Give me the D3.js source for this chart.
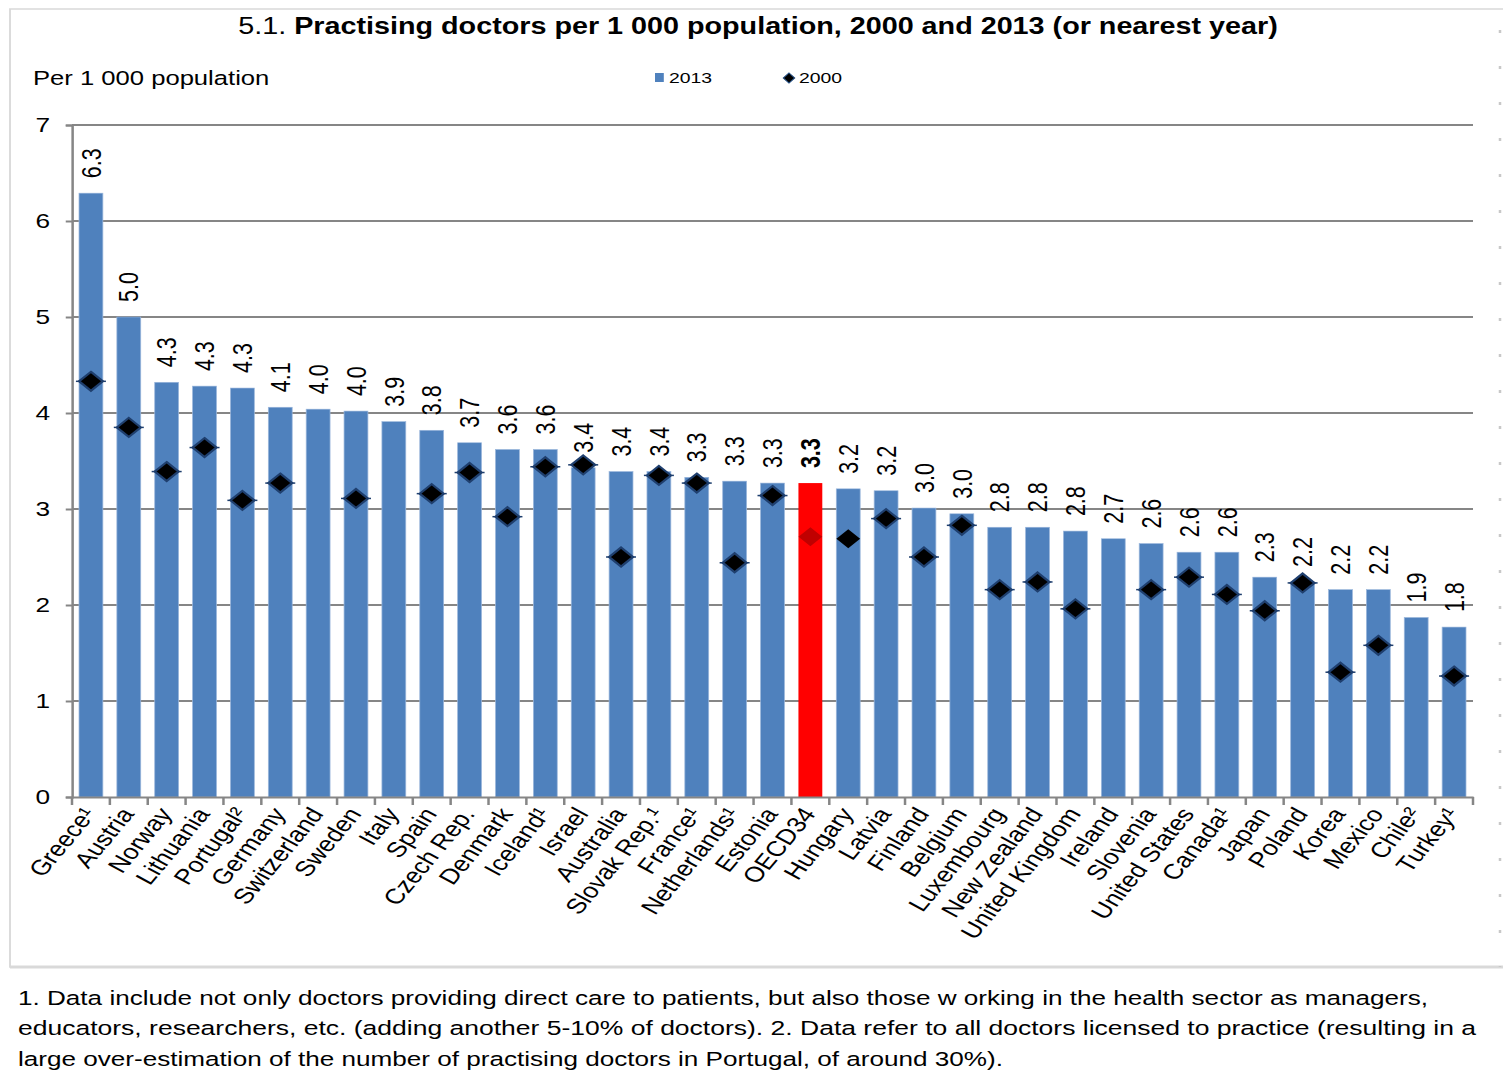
<!DOCTYPE html>
<html>
<head>
<meta charset="utf-8">
<script src="https://cdn.jsdelivr.net/npm/d3@7"></script>
<style>
  body { margin: 0; background: #fff; }
  text { font-family: "Liberation Sans", Arial, sans-serif; fill: #000; }
</style>
</head>
<body>
<div id="chart"></div>
<script>
// chart values
var countries = ["Greece¹","Austria","Norway","Lithuania","Portugal²","Germany","Switzerland","Sweden","Italy","Spain",
  "Czech Rep.","Denmark","Iceland¹","Israel","Australia","Slovak Rep.¹","France¹","Netherlands¹","Estonia","OECD34",
  "Hungary","Latvia","Finland","Belgium","Luxembourg","New Zealand","United Kingdom","Ireland","Slovenia","United States",
  "Canada¹","Japan","Poland","Korea","Mexico","Chile²","Turkey¹"];
var v2013 = [6.29,5.00,4.32,4.28,4.26,4.06,4.04,4.02,3.91,3.82,
  3.69,3.62,3.62,3.43,3.39,3.39,3.33,3.29,3.27,3.27,
  3.21,3.19,3.01,2.95,2.81,2.81,2.77,2.69,2.64,2.55,
  2.55,2.29,2.24,2.16,2.16,1.87,1.77];
var v2000 = [4.33,3.85,3.39,3.64,3.09,3.27,null,3.11,null,3.16,
  3.38,2.92,3.44,3.46,2.50,3.35,3.27,2.44,3.14,2.71,
  2.69,2.90,2.50,2.83,2.16,2.24,1.96,null,2.16,2.29,
  2.11,1.94,2.23,1.30,1.58,null,1.26];
var valueLabels = ["6.3","5.0","4.3","4.3","4.3","4.1","4.0","4.0","3.9","3.8",
  "3.7","3.6","3.6","3.4","3.4","3.4","3.3","3.3","3.3","3.3",
  "3.2","3.2","3.0","3.0","2.8","2.8","2.8","2.7","2.6","2.6",
  "2.6","2.3","2.2","2.2","2.2","1.9","1.8"];
var yTicks = [0,1,2,3,4,5,6,7];
var footnotes = [
  "1. Data include not only doctors providing direct care to patients, but also those w orking in the health sector as managers,",
  "educators, researchers, etc. (adding another 5-10% of doctors). 2. Data refer to all doctors licensed to practice (resulting in a",
  "large over-estimation of the number of practising doctors in Portugal, of around 30%)."
];

var W = 1503, H = 1070;
var sx = 1.25;            // the original picture is stretched sideways
var iw = W / sx;

var svg = d3.select("#chart").append("svg")
  .attr("width", W).attr("height", H);

var root = svg.append("g").attr("transform", "scale(" + sx + ",1)");

// frame
root.append("rect")
  .attr("x", 10 / sx).attr("y", 9)
  .attr("width", iw).attr("height", 958)
  .attr("fill", "none").attr("stroke", "#d9d9d9").attr("stroke-width", 1.5);
root.append("line")
  .attr("x1", 10 / sx).attr("x2", iw)
  .attr("y1", 967).attr("y2", 967)
  .attr("stroke", "#d9d9d9").attr("stroke-width", 3);
root.append("line")
  .attr("x1", 1500 / sx).attr("x2", 1500 / sx)
  .attr("y1", 30).attr("y2", 967)
  .attr("stroke", "#c8c8c8").attr("stroke-width", 2)
  .attr("stroke-dasharray", "3,33");

var x = d3.scaleBand()
  .domain(countries)
  .range([72 / sx, 1473 / sx])
  .paddingInner(0.37)
  .paddingOuter(0.185);

var y = d3.scaleLinear()
  .domain([0, 7])
  .range([797, 125]);

// title
var title = root.append("text")
  .attr("x", 758 / sx).attr("y", 34)
  .attr("text-anchor", "middle")
  .style("font-size", "23px");
title.append("tspan").text("5.1. ");
title.append("tspan").style("font-weight", "bold")
  .text("Practising doctors per 1 000 population, 2000 and 2013 (or nearest year)");

root.append("text")
  .attr("x", 33 / sx).attr("y", 85)
  .style("font-size", "20.5px")
  .text("Per 1 000 population");

// legend
root.append("rect")
  .attr("x", 655 / sx).attr("y", 73)
  .attr("width", 8 / sx * 1.1).attr("height", 9)
  .attr("fill", "#4F81BD");
root.append("text")
  .attr("x", 669 / sx).attr("y", 83)
  .style("font-size", "15.5px").text("2013");
root.append("path")
  .attr("transform", "translate(" + (789 / sx) + ",78)")
  .attr("d", "M0,-5L4.5,0L0,5L-4.5,0Z")
  .attr("fill", "#000").attr("stroke", "#1F497D").attr("stroke-width", 1);
root.append("text")
  .attr("x", 799 / sx).attr("y", 83)
  .style("font-size", "15.5px").text("2000");

// gridlines
root.append("g")
  .selectAll("line")
  .data(yTicks.filter(function(d){ return d > 0; }))
  .join("line")
  .attr("x1", x.range()[0]).attr("x2", x.range()[1])
  .attr("y1", function(d){ return y(d); }).attr("y2", function(d){ return y(d); })
  .attr("stroke", "#868686").attr("stroke-width", 2);

// y axis
var yAxis = root.append("g")
  .attr("transform", "translate(" + x.range()[0] + ",0)")
  .call(d3.axisLeft(y).tickValues(yTicks).tickSize(5).tickPadding(12.5).tickFormat(d3.format("d")));
yAxis.select(".domain").attr("stroke", "#868686").attr("stroke-width", 2);
yAxis.selectAll(".tick line").attr("stroke", "#868686").attr("stroke-width", 2);
yAxis.selectAll(".tick text")
  .style("font-size", "21px")
  .style("font-family", "'Liberation Sans', Arial, sans-serif")
  .attr("fill", "#000");

// bars
root.append("g")
  .selectAll("rect")
  .data(countries)
  .join("rect")
  .attr("x", function(d){ return x(d); })
  .attr("y", function(d, i){ return y(v2013[i]); })
  .attr("width", x.bandwidth())
  .attr("height", function(d, i){ return y(0) - y(v2013[i]); })
  .attr("fill", function(d){ return d === "OECD34" ? "#FF0000" : "#4F81BD"; })
  .attr("stroke", function(d){ return d === "OECD34" ? "none" : "#9BB7DC"; })
  .attr("stroke-width", 0.6);

// x axis
var xAxis = root.append("g")
  .attr("transform", "translate(0," + y(0) + ")")
  .call(d3.axisBottom(x).tickSize(0).tickFormat(""));
xAxis.select(".domain").attr("stroke", "#868686").attr("stroke-width", 2);
var step = x.step();
xAxis.append("g")
  .selectAll("line")
  .data(d3.range(countries.length + 1))
  .join("line")
  .attr("x1", function(i){ return x.range()[0] + i * step; })
  .attr("x2", function(i){ return x.range()[0] + i * step; })
  .attr("y1", 0).attr("y2", 8)
  .attr("stroke", "#868686").attr("stroke-width", 2);

// category labels
root.append("g")
  .selectAll("text")
  .data(countries)
  .join("text")
  .attr("transform", function(d){
    return "translate(" + (x(d) + x.bandwidth() / 2 + 5) + "," + (y(0) + 17) + ") rotate(-56)";
  })
  .attr("text-anchor", "end")
  .style("font-size", "21.5px")
  .text(function(d){ return d; });

// 2000 markers
var mk = root.append("g")
  .selectAll("g")
  .data(countries.map(function(d, i){ return {c: d, v: v2000[i]}; }).filter(function(d){ return d.v !== null; }))
  .join("g")
  .attr("transform", function(d){ return "translate(" + (x(d.c) + x.bandwidth() / 2) + "," + y(d.v) + ")"; });
mk.filter(function(d){ return d.c !== "OECD34" && d.c !== "Hungary"; })
  .append("line")
  .attr("x1", -12).attr("x2", 12).attr("y1", 0).attr("y2", 0)
  .attr("stroke", "#1F3F6E").attr("stroke-width", 1.5);
mk.append("path")
  .attr("d", "M0,-9.5L9.5,0L0,9.5L-9.5,0Z")
  .attr("fill", function(d){ return d.c === "OECD34" ? "#C00000" : "#000"; })
  .attr("stroke", function(d){ return d.c === "OECD34" || d.c === "Hungary" ? "none" : "#1F3F6E"; })
  .attr("stroke-width", 2);

// value labels
root.append("g")
  .selectAll("text")
  .data(countries)
  .join("text")
  .attr("transform", function(d, i){
    return "translate(" + (x(d) + x.bandwidth() / 2) + "," + (y(v2013[i]) - 15) + ") rotate(-90)";
  })
  .attr("dy", "0.36em")
  .style("font-size", "21.5px")
  .style("font-weight", function(d){ return d === "OECD34" ? "bold" : "normal"; })
  .text(function(d, i){ return valueLabels[i]; });

// footnotes
var fnLen = [1410, 1458, 985];
root.append("g")
  .selectAll("text")
  .data(footnotes)
  .join("text")
  .attr("x", 18 / sx)
  .attr("y", function(d, i){ return 1005 + i * 30.5; })
  .attr("textLength", function(d, i){ return fnLen[i] / sx; })
  .attr("lengthAdjust", "spacingAndGlyphs")
  .style("font-size", "20.5px")
  .text(function(d){ return d; });
</script>
</body>
</html>
